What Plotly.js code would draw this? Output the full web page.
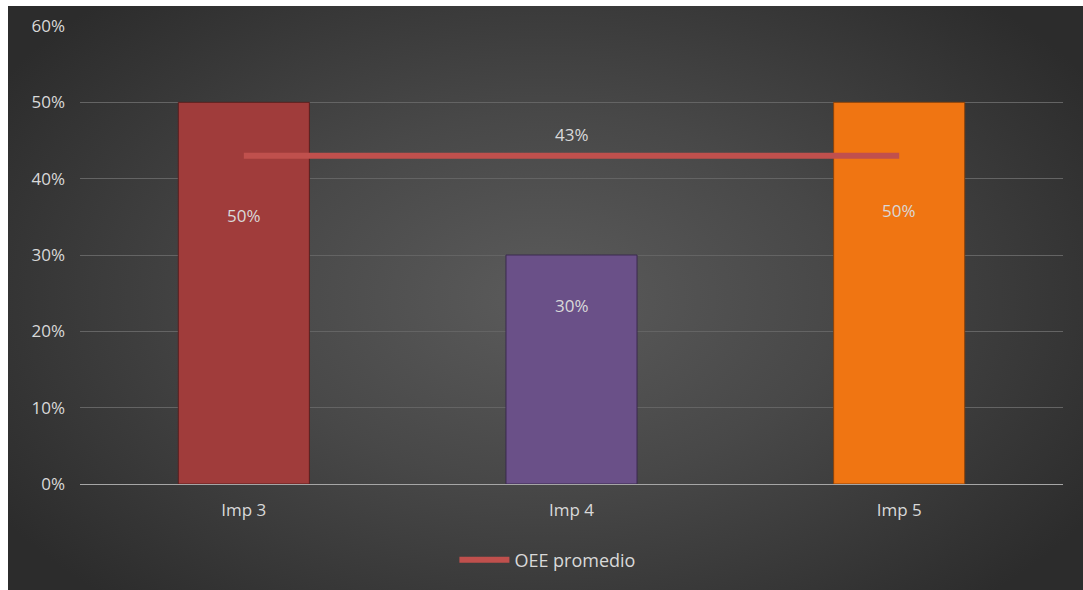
<!DOCTYPE html>
<html>
<head>
<meta charset="utf-8">
<script src="https://cdn.plot.ly/plotly-3.0.1.min.js"></script>
<style>
  html, body { margin:0; padding:0; background:#ffffff; width:1083px; height:590px; overflow:hidden; }
  #bg { position:absolute; left:8px; top:6px; width:1075px; height:584px;
        background: radial-gradient(ellipse 60% 70% at 50% 50%, #5b5b5b 0%, #484848 45%, #2c2c2c 100%); }
  #chart { position:absolute; left:0; top:0; width:1083px; height:590px; }
</style>
</head>
<body>
<div id="bg"></div>
<div id="chart"></div>
<script>
// ---- data ----
const categories = ['Imp 3', 'Imp 4', 'Imp 5'];
const oeeValues = [0.50, 0.30, 0.50];
const oeeAverage = [0.43, 0.43, 0.43];
const averageName = 'OEE promedio';
const yTickValues = [0, 0.1, 0.2, 0.3, 0.4, 0.5, 0.6];

// ---- styles ----
const barColors = ['#a03c3b', '#6a5088', '#f07512'];
const barEdge = ['#5a1f1e', '#3a2a4e', '#8a430a'];
const lineColor = '#c0504d';
const textColor = '#d9d9d9';
const fontFamily = '"Open Sans", "Noto Sans", sans-serif';
const fs = 17;

const bars = {
  type: 'bar',
  x: categories,
  y: oeeValues,
  width: 0.4,
  marker: { color: barColors, line: { color: barEdge, width: 1 } },
  showlegend: false,
  hoverinfo: 'x+y'
};

const avgLine = {
  type: 'scatter',
  mode: 'lines',
  x: categories,
  y: oeeAverage,
  name: averageName,
  line: { color: lineColor, width: 6 }
};

// bar value labels placed inside bars (pixel shift from bar top)
const labelShift = [-113, -50, -108];
const annotations = categories.map((c, i) => ({
  x: c, y: oeeValues[i], xref: 'x', yref: 'y',
  text: Math.round(oeeValues[i] * 100) + '%',
  showarrow: false, yshift: labelShift[i],
  font: { color: textColor, size: fs, family: fontFamily }
}));
// average label above the middle of the line
annotations.push({
  x: categories[1], y: oeeAverage[1], xref: 'x', yref: 'y',
  text: Math.round(oeeAverage[1] * 100) + '%',
  showarrow: false, yshift: 21,
  font: { color: textColor, size: fs, family: fontFamily }
});

const layout = {
  width: 1083, height: 590,
  margin: { l: 80, r: 20, t: 26, b: 106 },
  paper_bgcolor: 'rgba(0,0,0,0)',
  plot_bgcolor: 'rgba(0,0,0,0)',
  font: { family: fontFamily, color: textColor, size: fs },
  bargap: 0.6,
  xaxis: {
    type: 'category',
    range: [-0.5, 2.5],
    showgrid: false,
    showline: true, linecolor: '#a6a6a6', linewidth: 1,
    ticks: '', ticklabelstandoff: 11,
    tickfont: { color: textColor, size: fs, family: fontFamily },
    fixedrange: true
  },
  yaxis: {
    range: [0, 0.6],
    tickvals: yTickValues,
    tickformat: '.0%',
    showgrid: true, gridcolor: '#646464', gridwidth: 1,
    zeroline: false,
    showline: false,
    ticks: '', ticklabelstandoff: 14,
    tickfont: { color: textColor, size: fs, family: fontFamily },
    fixedrange: true
  },
  showlegend: true,
  legend: {
    orientation: 'h',
    x: 0.476, xanchor: 'center',
    y: -0.166, yanchor: 'middle',
    bgcolor: 'rgba(0,0,0,0)',
    font: { color: textColor, size: 18, family: fontFamily },
    itemwidth: 50
  },
  annotations: annotations
};

Plotly.newPlot('chart', [bars, avgLine], layout, { displayModeBar: false, staticPlot: true });
</script>
</body>
</html>
